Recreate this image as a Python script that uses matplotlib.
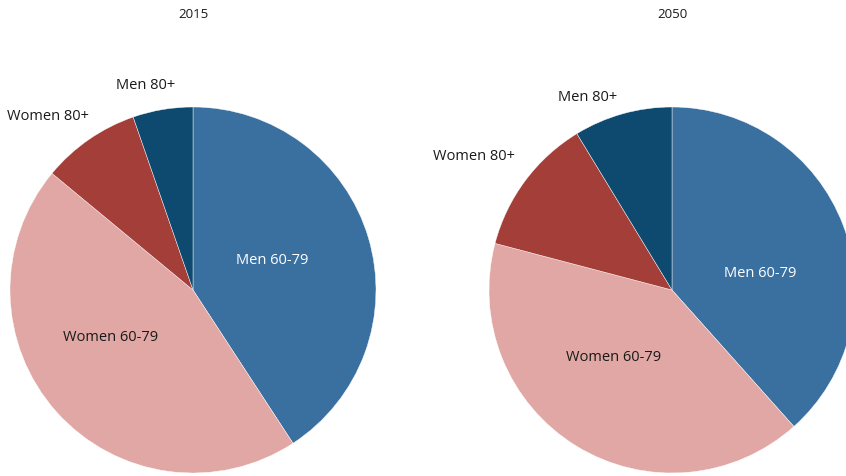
import matplotlib
matplotlib.use("Agg")
import matplotlib.pyplot as plt

# population aged 60+ by sex and age group (% share)
YEARS = ["2015", "2050"]
GROUPS = ["Men 60-79", "Women 60-79", "Women 80+", "Men 80+"]
SHARE_2015 = [40.8, 45.2, 8.7, 5.3]
SHARE_2050 = [38.4, 40.7, 12.2, 8.7]
COLORS = ["#3A70A0", "#E0A7A4", "#A43E39", "#0E4A6F"]
TEXT_COLORS = ["white", "#1a1a1a", "#1a1a1a", "#1a1a1a"]

# label anchors, in pie radius units
LABEL_POS = {
    "2015": [(0.43, 0.16), (-0.45, -0.26), (-0.79, 0.95), (-0.26, 1.12)],
    "2050": [(0.48, 0.09), (-0.32, -0.37), (-1.08, 0.73), (-0.46, 1.05)],
}

plt.rcParams["font.family"] = ["Open Sans", "DejaVu Sans"]

W, H = 846, 476
fig = plt.figure(figsize=(W / 100, H / 100), dpi=100)

R = 183
centers = [(193, 290), (672, 290)]
for year, shares, (cx, cy) in zip(YEARS, [SHARE_2015, SHARE_2050], centers):
    ax = fig.add_axes([(cx - R) / W, (H - cy - R) / H, 2 * R / W, 2 * R / H])
    ax.pie(shares, colors=COLORS, startangle=90, counterclock=False, radius=1,
           wedgeprops=dict(edgecolor="white", linewidth=0.3))
    ax.set_xlim(-1, 1)
    ax.set_ylim(-1, 1)
    ax.set_aspect("auto")
    ax.axis("off")
    for name, (lx, ly), tc in zip(GROUPS, LABEL_POS[year], TEXT_COLORS):
        ax.text(lx, ly, name, ha="center", va="center", fontsize=10.5, color=tc)
    fig.text(cx / W, 1 - 15 / H, year, ha="center", va="center", fontsize=9.5,
             color="#1a1a1a")

fig.savefig("out.png", dpi=100)
